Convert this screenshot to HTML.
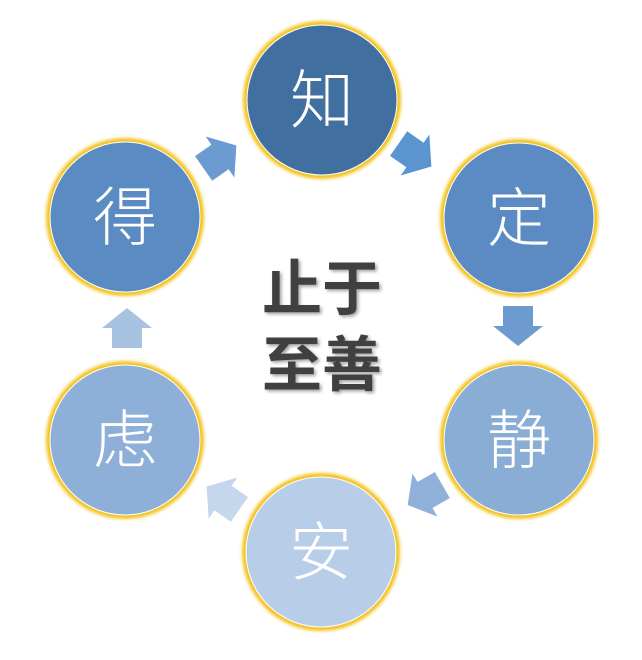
<!DOCTYPE html>
<html><head><meta charset="utf-8"><style>
html,body{margin:0;padding:0;background:#fff;}
svg{display:block}
</style></head><body>
<svg width="642" height="660" viewBox="0 0 642 660" xmlns="http://www.w3.org/2000/svg">
<defs>
<filter id="glow" x="-20%" y="-20%" width="140%" height="140%"><feGaussianBlur stdDeviation="1.5"/></filter>
<filter id="sh" x="-10%" y="-10%" width="130%" height="130%"><feDropShadow dx="2" dy="2" stdDeviation="1.5" flood-color="#000" flood-opacity="0.35"/></filter>
<path id="ar" d="M-20,-15 L0,-15 L0,-25 L20,0 L0,25 L0,15 L-20,15 Z"/>
</defs>
<g font-family="'Noto Sans CJK SC','WenQuanYi Zen Hei',sans-serif" font-size="64" font-weight="300" fill="#fff" text-anchor="middle">
<g>
<circle cx="322" cy="100" r="79" fill="#f3c21a" filter="url(#glow)"/>
<circle cx="322" cy="100" r="75" fill="#416f9f" stroke="#fff" stroke-width="1"/>
<text x="322" y="123">知</text>
</g>
<g>
<circle cx="519" cy="218" r="79" fill="#f3c21a" filter="url(#glow)"/>
<circle cx="519" cy="218" r="75" fill="#5b8bc2" stroke="#fff" stroke-width="1"/>
<text x="519" y="241">定</text>
</g>
<g>
<circle cx="519" cy="440" r="79" fill="#f3c21a" filter="url(#glow)"/>
<circle cx="519" cy="440" r="75" fill="#8aadd6" stroke="#fff" stroke-width="1"/>
<text x="519" y="463">静</text>
</g>
<g>
<circle cx="321" cy="552" r="79" fill="#f3c21a" filter="url(#glow)"/>
<circle cx="321" cy="552" r="75" fill="#b8cee8" stroke="#fff" stroke-width="1"/>
<text x="321" y="575">安</text>
</g>
<g>
<circle cx="125" cy="440" r="79" fill="#f3c21a" filter="url(#glow)"/>
<circle cx="125" cy="440" r="75" fill="#8eb0d8" stroke="#fff" stroke-width="1"/>
<text x="125" y="463">虑</text>
</g>
<g>
<circle cx="125" cy="217" r="79" fill="#f3c21a" filter="url(#glow)"/>
<circle cx="125" cy="217" r="75" fill="#5b8bc3" stroke="#fff" stroke-width="1"/>
<text x="125" y="240">得</text>
</g>
</g>
<use href="#ar" fill="#5b95cf" transform="translate(415,155) rotate(35)"/>
<use href="#ar" fill="#6d9bd0" transform="translate(518,326) rotate(90)"/>
<use href="#ar" fill="#8fb0d8" transform="translate(425,495) rotate(150)"/>
<use href="#ar" fill="#c5d7ec" transform="translate(223,498) rotate(-145)"/>
<use href="#ar" fill="#a8c2e2" transform="translate(127,328) rotate(-90)"/>
<use href="#ar" fill="#6b9bd0" transform="translate(220,157) rotate(-35)"/>
<g font-family="'Noto Sans CJK SC','WenQuanYi Zen Hei',sans-serif" font-size="60" font-weight="bold" fill="#3f3f3f" text-anchor="middle" filter="url(#sh)">
<text x="322" y="310">止于</text>
<text x="322" y="386">至善</text>
</g>
</svg>
</body></html>
